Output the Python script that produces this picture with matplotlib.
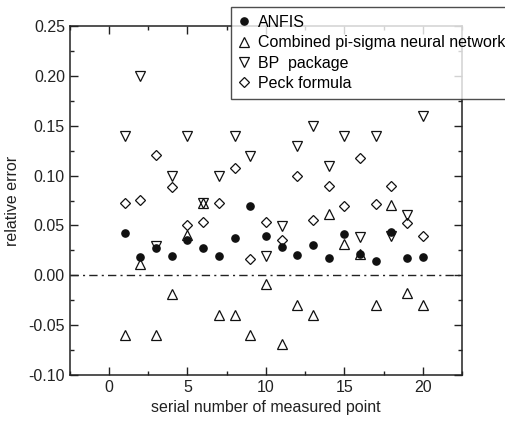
import numpy as np
import matplotlib
matplotlib.use('Agg')
import matplotlib.pyplot as plt
from matplotlib.ticker import MultipleLocator

plt.rcParams['font.family'] = ['Liberation Sans', 'DejaVu Sans']
plt.rcParams['font.size'] = 11.5

# serial number of measured point
points = list(range(1, 21))

# relative error for each method
anfis = [0.042, 0.018, 0.027, 0.019, 0.035, 0.027, 0.019, 0.037, 0.069, 0.039,
         0.028, 0.020, 0.030, 0.017, 0.041, 0.021, 0.014, 0.043, 0.017, 0.018]
pi_sigma = [-0.06, 0.011, -0.06, -0.019, 0.040, 0.0725, -0.04, -0.04, -0.06, -0.009,
            -0.069, -0.03, -0.04, 0.061, 0.031, 0.021, -0.03, 0.071, -0.018, -0.03]
bp_package = [0.14, 0.20, 0.029, 0.10, 0.14, 0.0725, 0.10, 0.14, 0.12, 0.019,
              0.049, 0.13, 0.15, 0.11, 0.14, 0.038, 0.14, 0.039, 0.060, 0.16]
peck = [0.073, 0.076, 0.121, 0.089, 0.050, 0.053, 0.073, 0.108, 0.016, 0.053,
        0.035, 0.10, 0.055, 0.090, 0.070, 0.118, 0.072, 0.090, 0.052, 0.039]

labels = ['ANFIS', 'Combined pi-sigma neural network', 'BP  package', 'Peck formula']

fig = plt.figure(figsize=(5.06, 4.25), dpi=100)
ax = fig.add_axes([0.138, 0.1176, 0.775, 0.8212])

ax.axhline(0, color='#222222', lw=1.0, ls=(0, (6, 3, 1.5, 3)), zorder=1)

ax.plot(points, anfis, 'o', ms=5.2, mfc='#111111', mec='#111111', ls='none', label=labels[0])
ax.plot(points, pi_sigma, '^', ms=6.5, mfc='none', mec='#111111', mew=0.9, ls='none', label=labels[1])
ax.plot(points, bp_package, 'v', ms=6.5, mfc='none', mec='#111111', mew=0.9, ls='none', label=labels[2])
ax.plot(points, peck, 'D', ms=5.5, mfc='none', mec='#111111', mew=0.9, ls='none', label=labels[3])

ax.set_xlim(-2.5, 22.5)
ax.set_ylim(-0.10, 0.25)
ax.xaxis.set_major_locator(MultipleLocator(5))
ax.xaxis.set_minor_locator(MultipleLocator(2.5))
ax.yaxis.set_major_locator(MultipleLocator(0.05))
ax.yaxis.set_minor_locator(MultipleLocator(0.025))
ax.yaxis.set_major_formatter(matplotlib.ticker.FormatStrFormatter('%.2f'))
ax.tick_params(which='both', direction='in', top=True, right=True, width=1.0, colors='#222222')
ax.tick_params(which='major', length=6)
ax.tick_params(which='minor', length=3)
ax.tick_params(labelcolor='#222222')
for s in ax.spines.values():
    s.set_linewidth(1.1)
    s.set_color('#222222')

ax.set_xlabel('serial number of measured point', color='#222222', labelpad=4)
ax.set_ylabel('relative error', color='#222222', labelpad=6)

leg = ax.legend(loc='upper left', bbox_to_anchor=(231 / 506, 1 - 7 / 425),
                bbox_transform=fig.transFigure, frameon=True, fancybox=False,
                edgecolor='#222222', numpoints=1, handlelength=0.6,
                handletextpad=0.6, borderpad=0.5, labelspacing=0.33,
                borderaxespad=0, fontsize=11.5)
leg.get_frame().set_linewidth(1.0)
leg.set_zorder(5)

fig.savefig('out.png', dpi=100)
